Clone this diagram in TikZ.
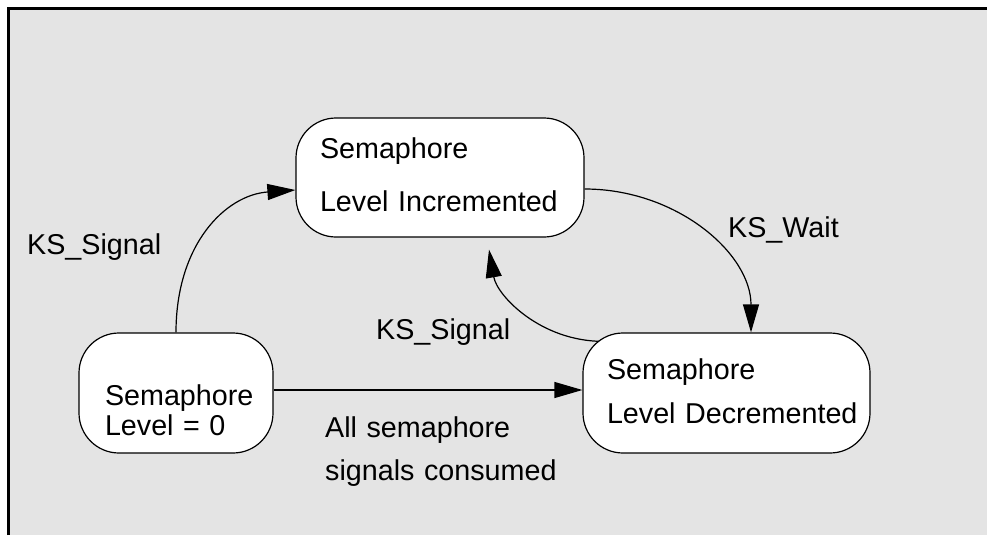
\documentclass[tikz,border=0pt]{standalone}
\usepackage{fontspec}
\setmainfont{Liberation Sans}
\usetikzlibrary{arrows.meta}
\pgfdeclarelayer{background}
\pgfdeclarelayer{edges}
\pgfsetlayers{background,edges,main}
\definecolor{panelgray}{HTML}{E4E4E4}
\newcommand\bigtext[1]{\fontsize{28.7pt}{#1}\selectfont}
\tikzset{
  state/.style={rectangle, draw, fill=white, line width=1.2pt, rounded corners=40pt,
    inner xsep=0pt, inner ysep=0pt, align=left},
  trans/.style={line width=1.2pt, -{Triangle[length=28pt,width=16pt]}},
  lbl/.style={anchor=base west, inner sep=0pt},
}
\begin{document}
\begin{tikzpicture}[x=1pt,y=-1pt]
\useasboundingbox (0,0) rectangle (987,535);

% states
\node[state, minimum width=288pt, minimum height=119pt, text width=240pt,
      text height=20pt, text depth=59pt, font=\bigtext{53pt}]
  (inc) at (440,177.5) {Semaphore\\Level Incremented};
\node[state, minimum width=287pt, minimum height=120pt, text width=239pt,
      text height=20pt, text depth=48pt, font=\bigtext{44pt}]
  (dec) at (726.5,393) {Semaphore\\\mbox{Level Decremented}};
\node[state, minimum width=194pt, minimum height=120pt, text width=142pt,
      text height=30pt, text depth=6pt, font=\bigtext{30pt}]
  (zero) at (176,393) {\mbox{Semaphore}\\Level = 0};

% transition labels
\node[lbl, font=\bigtext{34pt}] (sigA) at (27,254) {KS\_Signal};
\node[lbl, font=\bigtext{34pt}] (waitlbl) at (728,237) {KS\_Wait};
\node[lbl, font=\bigtext{34pt}] (sigB) at (376,339) {KS\_Signal};
\node[lbl, text width=240pt, align=left, font=\bigtext{43pt}]
  (consumed) at (325,437) {All semaphore\\signals consumed};

% transitions
\begin{pgfonlayer}{edges}
\draw[trans] (zero.north) .. controls +(0,-88) and +(-70,5) .. ([yshift=-12.5pt]inc.west);
\draw[trans] ([yshift=-11.5pt]inc.east) .. controls +(92,0) and +(0,-79) .. ([xshift=24.5pt]dec.north);
\draw[trans] ([xshift=21pt,yshift=-9pt]dec.north west) .. controls +(-63,0) and +(8,46) .. ([xshift=49pt,yshift=-12pt]inc.south);
\draw[trans] ([yshift=3pt]zero.east) -- ([yshift=3pt]dec.west);
\end{pgfonlayer}

% panel with its frame
\begin{pgfonlayer}{background}
\fill[panelgray] (8.5,8.5) rectangle (987,535);
\draw[line width=3pt] (8.5,535) -- (8.5,8.5) -- (987,8.5);
\end{pgfonlayer}
\end{tikzpicture}
\end{document}
